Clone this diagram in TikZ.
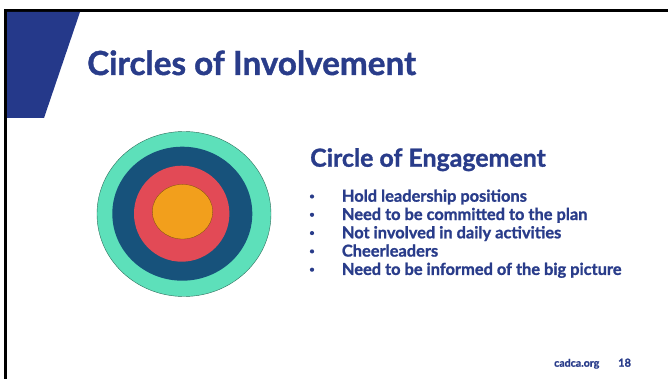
\documentclass[tikz,border=0pt]{standalone}
\usepackage{fontspec}
\setmainfont{Lato}[BoldFeatures={FakeBold=1.2}]
\definecolor{navy}{HTML}{25398A}
\definecolor{txt}{HTML}{293C8A}
\definecolor{teal}{HTML}{5DE0BA}
\definecolor{deepblue}{HTML}{17527B}
\definecolor{rose}{HTML}{E24A56}
\definecolor{amber}{HTML}{F29F1C}
\begin{document}
\begin{tikzpicture}[x=1pt,y=-1pt,
  txtstyle/.style={inner sep=0pt,text=txt,font=\bfseries},
  bulletdot/.style={circle,fill=txt,inner sep=0pt,minimum size=4.2pt}]
\useasboundingbox (0,0) rectangle (668,379);
\fill[white] (0,0) rectangle (668,379);
% frame lines
\fill[black] (4,9.5) rectangle (668,12);
\fill[black] (4,9.5) rectangle (7,379);
% blue band
\fill[navy] (7,12) -- (80,12) -- (44,118) -- (7,118) -- cycle;
% title
\node[txtstyle,anchor=base west,font=\bfseries\fontsize{33.2}{38}\selectfont] (title) at (87,75) {Circles of Involvement};
% target
\path[fill=teal,draw=teal!50!black,line width=0.4pt] (184,214) ellipse [x radius=87,y radius=82.5];
\path[fill=deepblue] (182.3,213.7) ellipse [x radius=70,y radius=67];
\path[fill=rose] (181.7,213.7) ellipse [x radius=47.7,y radius=48];
\path[fill=amber,draw=amber!50!black,line width=0.3pt] (182.5,211.7) ellipse [x radius=30.2,y radius=27.3];
% heading
\node[txtstyle,anchor=base west,font=\bfseries\fontsize{24.9}{28}\selectfont] (head) at (310,166.7) {Circle of Engagement};
% bullets
\foreach \t [count=\i] in {Hold leadership positions,Need to be committed to the plan,Not involved in daily activities,Cheerleaders,Need to be informed of the big picture}{
  \node[txtstyle,anchor=base west,font=\bfseries\fontsize{16.4}{19}\selectfont] (b\i) at (341.7,{201.7+18.3*(\i-1)}) {\t};
  \node[bulletdot] (d\i) at (312,{196.5+18.3*(\i-1)}) {};
}
% footer
\node[txtstyle,anchor=base west,font=\bfseries\fontsize{10.6}{12}\selectfont] (site) at (554,366.7) {cadca.org};
\node[txtstyle,anchor=base west,font=\bfseries\fontsize{11}{12}\selectfont] (page) at (618,366.7) {18};
\end{tikzpicture}
\end{document}
